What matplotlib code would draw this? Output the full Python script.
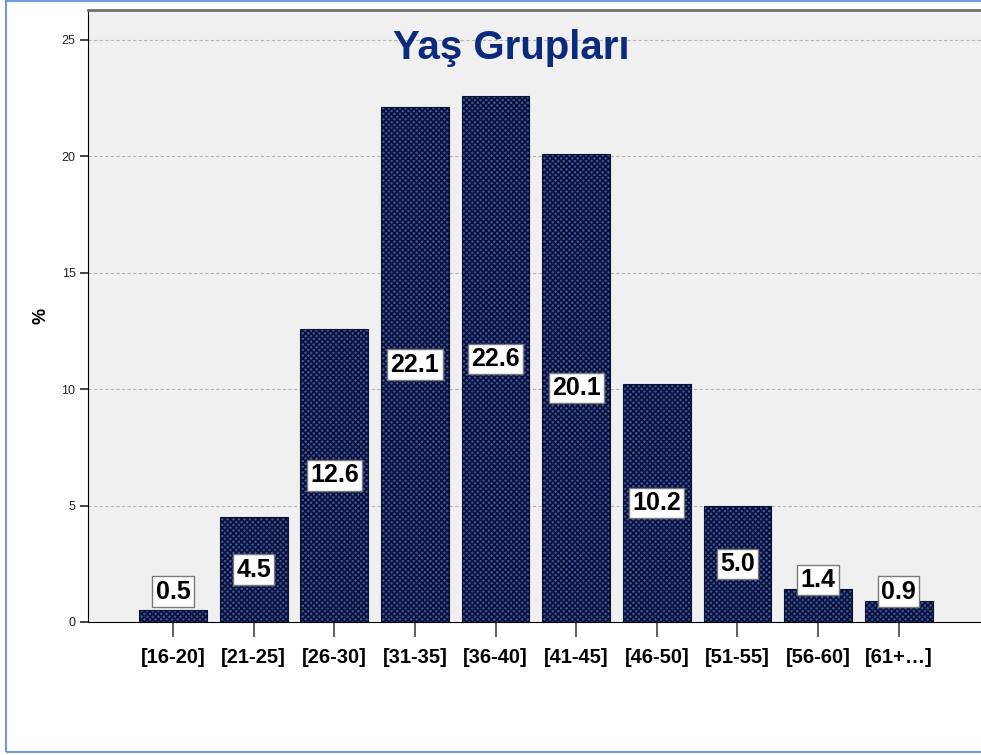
import matplotlib
matplotlib.use("Agg")
import matplotlib.pyplot as plt
from matplotlib.patches import Rectangle

categories = ["[16-20]", "[21-25]", "[26-30]", "[31-35]", "[36-40]",
              "[41-45]", "[46-50]", "[51-55]", "[56-60]", "[61+…]"]
percent = [0.5, 4.5, 12.6, 22.1, 22.6, 20.1, 10.2, 5.0, 1.4, 0.9]
y_ticks = [0, 5, 10, 15, 20, 25]
title = "Yaş Grupları"


def label_y(v: float) -> float:
    # small bars get the label sitting on top, others in the middle
    if v < 2:
        return max(v + 0.4, 1.3)
    return v / 2


def create_graph() -> None:
    plt.rcParams["font.family"] = ["Liberation Sans", "DejaVu Sans"]
    plt.rcParams["hatch.linewidth"] = 1.2

    fig = plt.figure(figsize=(9.81, 7.55), dpi=100)
    fig.patches.append(Rectangle((6 / 981, 3 / 755), 1.2, 751 / 755,
                                 transform=fig.transFigure, fill=False,
                                 edgecolor="#6f9ad8", linewidth=1.5))

    ax = fig.add_axes([88 / 981, 1 - 622 / 755, 1 - 88 / 981, 612.5 / 755])
    ax.set_facecolor("#f0f0f0")
    x = list(range(len(categories)))
    ax.bar(x, percent, width=0.84, color="#3a52b0", edgecolor="#0b1230",
           hatch="xxxxxx", linewidth=0.8, zorder=2)

    for xi, v in zip(x, percent):
        ax.text(xi, label_y(v), f"{v:.1f}", ha="center", va="center",
                fontsize=18, fontweight="bold", color="black", zorder=3,
                bbox=dict(boxstyle="square,pad=0.13", facecolor="white",
                          edgecolor="#7a7a7a", linewidth=1))

    ax.set_xlim(-1.055, 10.02)
    ax.set_ylim(0, 26.3)
    ax.set_yticks(y_ticks)
    ax.set_xticks(x)
    ax.set_xticklabels(categories, fontsize=14.5, fontweight="bold")
    ax.tick_params(axis="y", labelsize=9, length=6, width=1.2,
                   colors="#222222", pad=3)
    ax.tick_params(axis="x", length=11, width=1.2, color="#444444", pad=8)
    ax.grid(axis="y", linestyle=(0, (3, 2)), color="#b5b5b5",
            linewidth=0.8, zorder=1)
    ax.set_axisbelow(True)

    ax.spines["top"].set_color("#707070")
    ax.spines["top"].set_linewidth(2)
    ax.spines["left"].set_color("black")
    ax.spines["bottom"].set_color("black")
    ax.spines["right"].set_visible(False)

    ax.set_ylabel("%", fontsize=13, fontweight="bold", labelpad=9)
    ax.text(0.474, 0.937, title, transform=ax.transAxes, ha="center",
            va="center", fontsize=29, fontweight="bold", color="#0c2a7c")

    fig.savefig("out.png", dpi=100)
    plt.close(fig)


if __name__ == "__main__":
    create_graph()
